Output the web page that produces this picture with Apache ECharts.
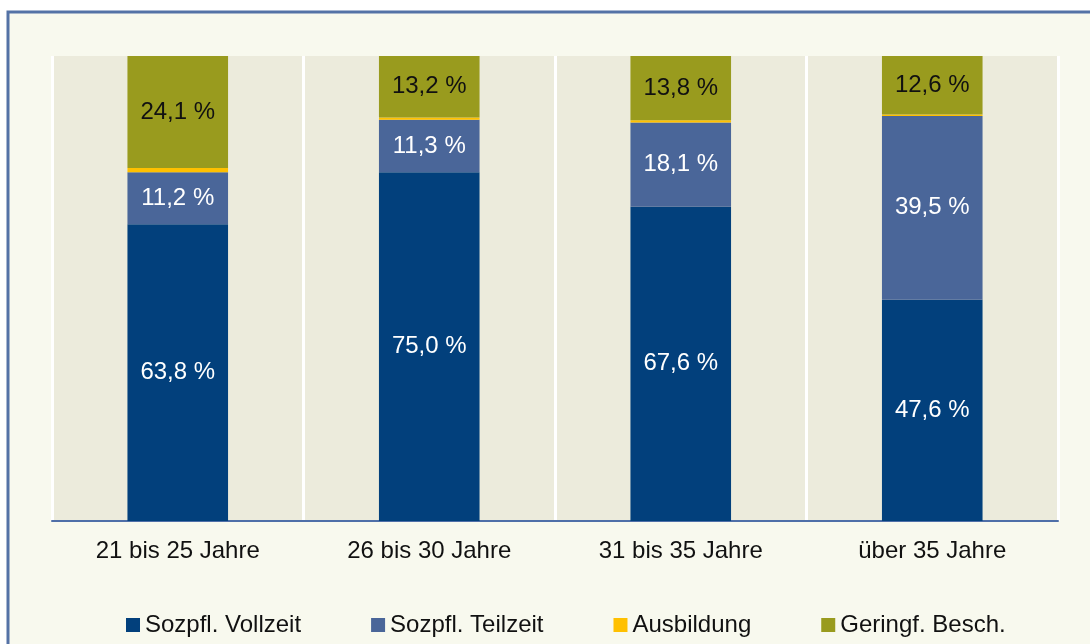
<!DOCTYPE html>
<html>
<head>
<meta charset="utf-8">
<script src="https://cdn.jsdelivr.net/npm/echarts@6/dist/echarts.min.js"></script>
<style>
  html, body { margin: 0; padding: 0; background: #fff; }
  #chart { width: 1090px; height: 644px; }
</style>
</head>
<body>
<div id="chart"></div>
<script>
// Altersgruppen
const categories = ['21 bis 25 Jahre', '26 bis 30 Jahre', '31 bis 35 Jahre', 'über 35 Jahre']

// Anteile in %
const vollzeit = [63.8, 75.0, 67.6, 47.6]
const teilzeit = [11.2, 11.3, 18.1, 39.5]
const ausbildung = [0.9, 0.5, 0.5, 0.3]
const geringf = [24.1, 13.2, 13.8, 12.6]

const seriesNames = ['Sozpfl. Vollzeit', 'Sozpfl. Teilzeit', 'Ausbildung', 'Geringf. Besch.']
const seriesColors = ['#02407c', '#4a6699', '#ffc000', '#999b1e']

const font = "'Liberation Sans', Arial, sans-serif"

const fmt = p => p.value.toFixed(1).replace('.', ',') + ' %'

const makeSeries = (name, data, color, labelColor) => ({
  name,
  type: 'bar',
  stack: 'total',
  barWidth: '40%',
  data,
  itemStyle: { color },
  label: {
    show: labelColor !== null,
    position: 'inside',
    formatter: fmt,
    color: labelColor,
    fontSize: 24,
    fontFamily: font
  }
})

const chart = echarts.init(document.getElementById('chart'))

const option = {
  animation: false,
  backgroundColor: '#ffffff',
  graphic: [
    {
      type: 'rect',
      z: -10,
      shape: { x: 8, y: 12, width: 1100, height: 700 },
      style: { fill: '#f8f9ee', stroke: '#5472a6', lineWidth: 3 }
    }
  ],
  grid: {
    left: 52,
    right: 32,
    top: 56,
    bottom: 123,
    show: true,
    backgroundColor: '#ecebdc',
    borderWidth: 0
  },
  legend: {
    data: seriesNames,
    left: 121,
    top: 608,
    icon: 'rect',
    itemWidth: 14,
    itemHeight: 14,
    itemGap: 70,
    textStyle: { fontSize: 24, fontFamily: font, color: '#111' }
  },
  xAxis: {
    type: 'category',
    data: categories,
    axisLine: { show: true, lineStyle: { color: '#4f6fa8', width: 2 } },
    axisTick: { show: false },
    axisLabel: { fontSize: 24, fontFamily: font, color: '#111', margin: 18 },
    splitLine: { show: true, lineStyle: { color: '#ffffff', width: 3 } }
  },
  yAxis: {
    type: 'value',
    min: 0,
    max: 100,
    show: false
  },
  series: [
    makeSeries(seriesNames[0], vollzeit, seriesColors[0], '#ffffff'),
    makeSeries(seriesNames[1], teilzeit, seriesColors[1], '#ffffff'),
    makeSeries(seriesNames[2], ausbildung, seriesColors[2], null),
    makeSeries(seriesNames[3], geringf, seriesColors[3], '#111111')
  ]
}

chart.setOption(option)
</script>
</body>
</html>
